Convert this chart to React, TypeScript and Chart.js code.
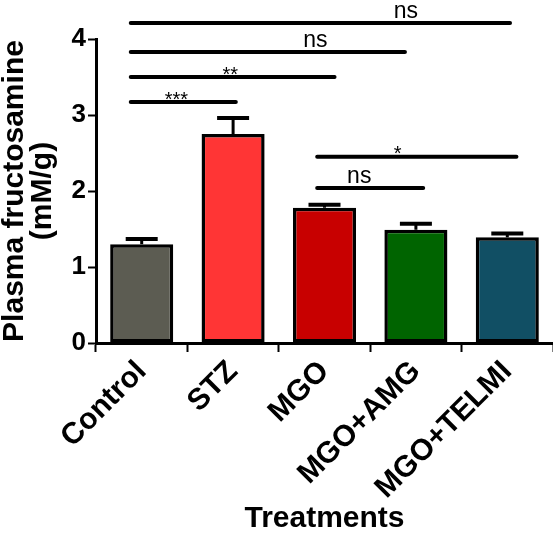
import React, { useEffect, useRef } from "react";
import { Chart, registerables } from "chart.js";

Chart.register(...registerables);

const categories = ["Control", "STZ", "MGO", "MGO+AMG", "MGO+TELMI"];
const means = [1.3, 2.75, 1.78, 1.49, 1.39];
const sems = [0.07, 0.21, 0.04, 0.08, 0.05];
const barColors = ["#5c5c52", "#ff3535", "#c80000", "#006400", "#114f64"];
const yTicks = [0, 1, 2, 3, 4];

// significance brackets (category units / y values)
const sigFrom = [-0.12, -0.12, -0.12, -0.12, 1.92, 1.92];
const sigTo = [4.03, 2.88, 2.11, 1.03, 4.1, 3.08];
const sigY = [4.21, 3.83, 3.5, 3.17, 2.45, 2.04];
const sigLabels = ["ns", "ns", "**", "***", "*", "ns"];
const sigLabelX = [2.89, 1.9, 0.97, 0.38, 2.8, 2.38];

const FONT = "'Liberation Sans', Arial, sans-serif";

const overlayPlugin = {
  id: "overlay",
  afterDatasetsDraw(chart: any) {
    const ctx = chart.ctx;
    const x = chart.scales.x;
    const y = chart.scales.y;
    const step = x.getPixelForValue(1) - x.getPixelForValue(0);
    const px = (v: number) => x.getPixelForValue(0) + v * step;
    ctx.save();
    ctx.strokeStyle = "#000";
    means.forEach((m, i) => {
      const cx = x.getPixelForValue(i);
      const yTop = y.getPixelForValue(m);
      const yErr = y.getPixelForValue(m + sems[i]);
      ctx.lineWidth = 3;
      ctx.beginPath();
      ctx.moveTo(cx, yTop);
      ctx.lineTo(cx, yErr);
      ctx.stroke();
      ctx.lineWidth = 4;
      ctx.beginPath();
      ctx.moveTo(cx - 16, yErr);
      ctx.lineTo(cx + 16, yErr);
      ctx.stroke();
    });
    ctx.lineWidth = 4;
    ctx.lineCap = "round";
    ctx.fillStyle = "#000";
    ctx.textAlign = "center";
    ctx.textBaseline = "bottom";
    sigY.forEach((v, i) => {
      const yy = y.getPixelForValue(v);
      ctx.beginPath();
      ctx.moveTo(px(sigFrom[i]), yy);
      ctx.lineTo(px(sigTo[i]), yy);
      ctx.stroke();
      const isStar = sigLabels[i].startsWith("*");
      ctx.font = isStar ? `20px ${FONT}` : `23px ${FONT}`;
      ctx.fillText(sigLabels[i], px(sigLabelX[i]), yy + (isStar ? 8 : 0));
    });
    ctx.restore();
  },
};

export default function App() {
  const ref = useRef<HTMLCanvasElement>(null);
  useEffect(() => {
    document.body.style.margin = "0";
    const chart = new Chart(ref.current as HTMLCanvasElement, {
      type: "bar",
      data: {
        labels: categories,
        datasets: [
          {
            data: means,
            backgroundColor: barColors,
            borderColor: "#000",
            borderWidth: 3.5,
            borderSkipped: false,
            barPercentage: 0.69,
            categoryPercentage: 1,
          },
        ],
      },
      options: {
        animation: false,
        responsive: false,
        layout: { padding: { top: 39, right: 0, left: 0, bottom: 0 } },
        plugins: { legend: { display: false }, tooltip: { enabled: false } },
        scales: {
          x: {
            grid: {
              drawOnChartArea: false,
              drawTicks: true,
              tickLength: 9,
              tickWidth: 2,
              tickColor: "#000",
              offset: true,
            },
            border: { color: "#000", width: 3 },
            ticks: {
              color: "#000",
              minRotation: 45,
              maxRotation: 45,
              padding: 2,
              font: { family: FONT, size: 30, weight: "bold" },
            },
            title: {
              display: true,
              text: "Treatments",
              color: "#000",
              padding: { top: 0, bottom: 0 },
              font: { family: FONT, size: 30, weight: "bold" },
            },
            afterFit(scale: any) {
              scale.height = 194;
            },
          },
          y: {
            min: 0,
            max: 4,
            afterBuildTicks(scale: any) {
              scale.ticks = yTicks.map((v) => ({ value: v }));
            },
            grid: {
              drawOnChartArea: false,
              drawTicks: true,
              tickLength: 8,
              tickWidth: 2,
              tickColor: "#000",
            },
            border: { color: "#000", width: 3 },
            ticks: {
              color: "#000",
              padding: 2,
              font: { family: FONT, size: 26, weight: "bold" },
            },
            title: {
              display: true,
              text: ["Plasma fructosamine", "(mM/g)"],
              color: "#000",
              padding: { top: 0, bottom: 0 },
              font: { family: FONT, size: 30, weight: "bold", lineHeight: 0.95 },
            },
            afterFit(scale: any) {
              scale.width = 96;
            },
          },
        },
      },
      plugins: [overlayPlugin],
    } as any);
    return () => chart.destroy();
  }, []);
  return <canvas ref={ref} width={553} height={537} style={{ display: "block" }} />;
}
